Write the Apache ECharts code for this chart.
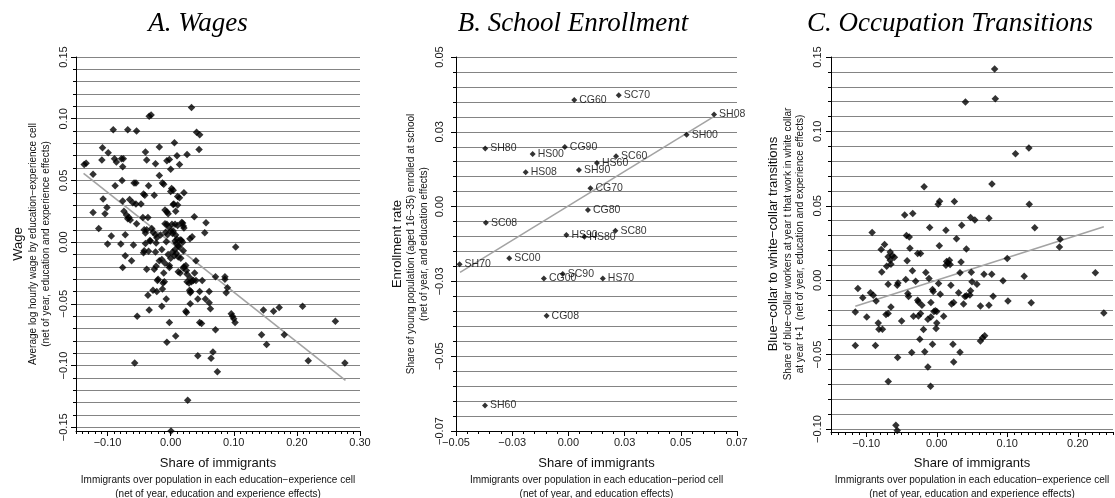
<!DOCTYPE html>
<html><head><meta charset="utf-8">
<script src="https://cdn.jsdelivr.net/npm/echarts@6/dist/echarts.min.js"></script>
<style>html,body{margin:0;padding:0;background:#fff}#c{width:1115px;height:498px}</style>
</head><body><div id="c"></div>
<script>
// ---------------- DATA ----------------
const panelTitles = ['A. Wages', 'B. School Enrollment', 'C. Occupation Transitions'];

// Panel A: wages vs share of immigrants (education-experience cells)
const wagesPoints = [
[-0.137,0.063],[-0.134,0.064],[-0.123,0.055],[-0.108,0.0765],[-0.109,0.0665],[-0.099,0.0725],[-0.091,0.091],[-0.089,0.0676],[-0.086,0.065],[-0.078,0.0676],[-0.075,0.0676],[-0.076,0.061],[-0.068,0.091],[-0.054,0.090],[-0.034,0.102],[-0.031,0.103],[0.033,0.109],[-0.040,0.073],[-0.038,0.0665],[-0.024,0.0635],[-0.018,0.077],[0.006,0.0805],[-0.006,0.066],[-0.002,0.067],[0.000,0.059],[0.010,0.070],[0.014,0.063],[0.026,0.071],[0.041,0.089],[0.046,0.087],[0.045,0.075],[-0.088,0.0457],[-0.077,0.050],[-0.058,0.048],[-0.055,0.048],[-0.035,0.0457],[-0.018,0.054],[-0.013,0.048],[-0.011,0.047],[0.0015,0.0435],[0.004,0.042],[0.021,0.040],
[-0.107,0.035],[-0.101,0.028],[-0.104,0.023],[-0.123,0.024],[-0.114,0.011],[-0.094,0.005],[-0.076,0.0333],[-0.065,0.0346],[-0.060,0.032],[-0.055,0.031],[-0.047,0.031],[-0.074,0.025],[-0.070,0.022],[-0.068,0.019],[-0.066,0.020],[-0.064,0.018],[-0.054,0.015],[-0.072,0.006],[-0.044,0.020],[-0.036,0.020],[-0.042,0.010],[-0.038,0.010],[-0.040,0.0075],[-0.030,0.011],[-0.028,0.008],[-0.024,0.006],[-0.033,0.0014],[-0.022,0.0035],[-0.016,0.0057],[-0.041,0.038],[-0.043,0.039],[-0.026,0.038],[-0.009,0.026],[-0.006,0.0246],[-0.004,0.023],[0.008,0.025],[0.005,0.031],[0.011,0.030],[0.004,0.0305],[0.000,0.041],[0.011,0.037],[0.014,0.036],[0.0375,0.0205],[0.056,0.0157],[0.054,0.0076],[-0.009,0.015],[-0.006,0.0145],[0.0005,0.009],[0.004,0.009],[0.002,0.0145],[0.007,0.0145],[0.0175,0.016],[0.019,0.0155],[0.020,0.013],[0.021,0.0115],[0.011,0.0135],[-0.003,0.012],[0.008,0.0057],[0.003,0.007],[0.0305,0.0027],[0.034,0.0043],[0.015,0.002],[0.019,0.000],[0.010,0.0024],[0.007,0.001],[-0.008,0.008],[-0.005,0.006],[0.103,-0.004],
[-0.100,-0.0016],[-0.079,-0.0016],[-0.059,-0.0024],[-0.040,-0.001],[-0.032,0.001],[-0.023,-0.0007],[-0.007,0.0003],[0.009,-0.001],[0.017,0.0015],[0.012,-0.003],[-0.072,-0.011],[-0.062,-0.015],[-0.076,-0.0205],[-0.043,-0.0085],[-0.035,-0.0073],[-0.024,-0.008],[-0.042,-0.007],[-0.014,-0.006],[-0.018,-0.015],[-0.014,-0.014],[-0.009,-0.017],[-0.002,-0.019],[-0.002,-0.0205],[-0.038,-0.022],[-0.026,-0.022],[-0.023,-0.0195],[-0.011,-0.025],[-0.004,-0.010],[0.003,-0.008],[0.006,-0.011],[0.009,-0.009],[0.012,-0.012],[0.016,-0.013],[0.007,-0.006],[0.014,-0.004],[0.020,-0.007],[0.000,-0.013],[0.012,-0.024],[0.015,-0.025],[0.024,-0.019],[0.020,-0.021],[0.025,-0.023],[0.026,-0.026],[0.021,-0.020],[0.040,-0.015],[0.038,-0.0249],
[-0.021,-0.031],[-0.020,-0.030],[-0.010,-0.032],[-0.012,-0.033],[0.026,-0.032],[0.029,-0.033],[0.033,-0.032],[0.031,-0.029],[0.036,-0.031],[0.040,-0.031],[0.050,-0.031],[-0.028,-0.039],[-0.022,-0.040],[-0.036,-0.043],[-0.013,-0.038],[-0.007,-0.046],[-0.014,-0.052],[-0.034,-0.055],[-0.053,-0.060],[0.030,-0.039],[0.031,-0.041],[0.032,-0.040],[0.046,-0.040],[0.061,-0.040],[0.055,-0.046],[0.061,-0.049],[0.043,-0.046],[0.063,-0.054],[0.031,-0.050],[0.024,-0.056],[0.025,-0.057],[0.071,-0.028],[0.086,-0.028],[0.086,-0.030],[0.090,-0.037],[0.088,-0.041],
[-0.002,-0.065],[0.008,-0.076],[-0.006,-0.081],[-0.057,-0.098],[0.046,-0.065],[0.049,-0.066],[0.071,-0.071],[0.027,-0.128],[0.0005,-0.153],[0.043,-0.092],[0.064,-0.094],[0.067,-0.089],[0.074,-0.105],[0.096,-0.058],[0.098,-0.060],[0.100,-0.062],[0.102,-0.065],[0.144,-0.075],[0.147,-0.055],[0.152,-0.083],[0.163,-0.056],[0.172,-0.053],[0.180,-0.075],[0.209,-0.052],[0.218,-0.096],[0.261,-0.064],[0.276,-0.098]
];
const wagesFit = [[-0.138, 0.0557], [0.277, -0.112]];

// Panel B: school enrollment (education-period cells)
const enrollNames = ['CG60','SC70','SH08','SH00','SH80','CG90','HS00','SC60','HS60','SH90','HS08','CG70','CG80','SC08','SC80','HS90','HS80','SH70','SC00','SC90','CG00','HS70','CG08','SH60'];
const enrollX = [0.0026,0.0224,0.0648,0.0526,-0.0370,-0.0016,-0.0159,0.0212,0.0127,0.0047,-0.0190,0.0098,0.0087,-0.0367,0.0209,-0.0009,0.0071,-0.0484,-0.0263,-0.0025,-0.0109,0.0153,-0.0097,-0.0371];
const enrollY = [0.0356,0.0372,0.0308,0.0240,0.0194,0.0199,0.0176,0.0168,0.0146,0.0122,0.0115,0.0061,-0.0011,-0.0054,-0.0081,-0.0095,-0.0101,-0.0193,-0.0173,-0.0225,-0.0240,-0.0240,-0.0365,-0.0665];
const enrollFit = [[-0.0482, -0.0220], [0.0645, 0.0300]];

// Panel C: blue-collar to white-collar transitions
const occPoints = [
[0.0821,0.1419],[0.0831,0.1219],[0.0407,0.1197],[0.1117,0.085],[0.1307,0.0888],[0.0783,0.0646],[-0.0179,0.0628],[0.1312,0.0511],[0.002,0.0511],[0.004,0.0531],[0.025,0.0529],[-0.0455,0.0439],[-0.034,0.0448],[0.048,0.0421],[0.054,0.0404],[0.074,0.0417],[-0.010,0.0354],[0.013,0.0336],[0.0354,0.037],[0.139,0.0352],[-0.0917,0.0321],[-0.043,0.030],[-0.039,0.029],[0.028,0.0278],[0.175,0.0276],[0.0036,0.0231],[-0.074,0.024],[0.174,0.0224],[0.042,0.021],[-0.038,0.0215],
[-0.0788,0.0206],[-0.066,0.019],[-0.063,0.0165],[-0.069,0.0158],[-0.060,0.0155],[-0.066,0.0135],[-0.071,0.0094],[-0.065,0.0108],[-0.078,0.0056],[-0.042,0.013],[-0.027,0.018],[-0.023,0.018],[-0.0345,0.0063],[-0.044,0.0004],[-0.030,-0.0007],[-0.0155,0.0052],[-0.011,0.0011],[0.0345,0.0123],[0.013,0.010],[0.016,0.0115],[0.019,0.0105],[0.014,0.0125],[0.018,0.0135],[0.033,0.005],[0.049,0.0054],[0.067,0.004],[0.078,0.004],[0.094,-0.0004],[0.100,0.0146],[0.124,0.0027],[0.225,0.005],[0.050,-0.0011],[0.057,-0.0027],[0.0026,-0.0022],[0.020,-0.0034],[-0.069,-0.0027],[-0.055,-0.0018],[-0.056,-0.0034],
[-0.1155,-0.0213],[-0.1119,-0.0056],[-0.105,-0.0117],[-0.0993,-0.0247],[-0.094,-0.0085],[-0.090,-0.0101],[-0.086,-0.0139],[-0.083,-0.0287],[-0.082,-0.033],[-0.077,-0.033],[-0.1155,-0.0439],[-0.087,-0.0439],[-0.072,-0.023],[-0.069,-0.0224],[-0.065,-0.018],[-0.0555,-0.052],[-0.0688,-0.068],[-0.0498,-0.0274],[-0.058,-0.0975],[-0.056,-0.101],[-0.041,-0.009],[-0.040,-0.011],[-0.033,-0.0242],[-0.027,-0.0135],[-0.026,-0.0146],[-0.026,-0.024],[-0.023,-0.0224],[-0.021,-0.0168],[-0.0355,-0.0486],[-0.024,-0.0397],[-0.0188,-0.0332],[-0.017,-0.048],[-0.0126,-0.0583],[-0.0088,-0.0713],[-0.0126,-0.0262],[-0.0083,-0.0247],[-0.0083,-0.015],[-0.006,-0.0063],[-0.005,-0.0075],[-0.004,-0.021],[-0.002,-0.0205],[0.000,-0.021],[-0.006,-0.043],[-0.001,-0.0325],[0.000,-0.0287],[0.005,-0.0094],[0.0098,-0.0242],[0.021,-0.016],[0.024,-0.015],[0.023,-0.043],[0.024,-0.055],[0.031,-0.0085],[0.033,-0.0484],[0.038,-0.016],[0.040,-0.011],[0.042,-0.0105],[0.047,-0.010],[0.048,-0.007],[0.062,-0.0173],[0.062,-0.0408],[0.065,-0.0386],[0.068,-0.0374],[0.074,-0.0168],[0.080,-0.0108],[0.101,-0.0139],[0.134,-0.0152],[0.237,-0.022]
];
const occFit = [[-0.1155, -0.0175], [0.237, 0.0359]];

// Tick values and labels
const aXTicks = [-0.10, 0.00, 0.10, 0.20, 0.30];
const aXLabels = ['\u22120.10', '0.00', '0.10', '0.20', '0.30'];
const aYTicks = [-0.15, -0.10, -0.05, 0.00, 0.05, 0.10, 0.15];
const aYLabels = ['\u22120.15', '\u22120.10', '\u22120.05', '0.00', '0.05', '0.10', '0.15'];
const bXTicks = [-0.05, -0.025, 0.00, 0.025, 0.05, 0.075];
const bXLabels = ['\u22120.05', '\u22120.03', '0.00', '0.03', '0.05', '0.07'];
const bYTicks = [-0.075, -0.05, -0.025, 0.00, 0.025, 0.05];
const bYLabels = ['\u22120.07', '\u22120.05', '\u22120.03', '0.00', '0.03', '0.05'];
const cXTicks = [-0.10, 0.00, 0.10, 0.20];
const cXLabels = ['\u22120.10', '0.00', '0.10', '0.20'];
const cYTicks = [-0.10, -0.05, 0.00, 0.05, 0.10, 0.15];
const cYLabels = ['\u22120.10', '\u22120.05', '0.00', '0.05', '0.10', '0.15'];

const yNames = [
  ['Wage', 'Average log hourly wage by education\u2212experience cell', '(net of year, education and experience effects)'],
  ['Enrollment rate', 'Share of young population (aged 16\u221235) enrolled at school', '(net of year, and education effects)'],
  ['Blue\u2212collar to white\u2212collar transitions', 'Share of blue\u2212collar workers at year t that work in white collar', 'at year t+1  (net of year, education and experience effects)']
];
const xNames = [
  ['Share of immigrants', 'Immigrants over population in each education\u2212experience cell', '(net of year, education and experience effects)'],
  ['Share of immigrants', 'Immigrants over population in each education\u2212period cell', '(net of year, and education effects)'],
  ['Share of immigrants', 'Immigrants over population in each education\u2212experience cell', '(net of year, education and experience effects)']
];

// ---------------- BUILD ----------------
function steps(a, b, s) {
  const n = Math.round((b - a) / s), out = [];
  for (let i = 0; i <= n; i++) out.push(+(a + i * s).toFixed(4));
  return out;
}
function fmt(ticks, labels) {
  return v => { for (let i = 0; i < ticks.length; i++) if (Math.abs(v - ticks[i]) < 1e-7) return labels[i]; return ''; };
}
const SANS = '"Liberation Sans", Arial, sans-serif';
const panels = [
  { grid: { left: 76, top: 57, width: 284, height: 374 }, xmin: -0.15, xmax: 0.30, ymin: -0.153, ymax: 0.15,
    xT: aXTicks, xL: aXLabels, yT: aYTicks, yL: aYLabels, xMinor: steps(-0.15, 0.30, 0.01), yMinor: steps(-0.15, 0.15, 0.01),
    cx: 218, yx: [18, 33, 46], ym: 7 },
  { grid: { left: 456, top: 57, width: 281, height: 374 }, xmin: -0.05, xmax: 0.075, ymin: -0.075, ymax: 0.05,
    xT: bXTicks, xL: bXLabels, yT: bYTicks, yL: bYLabels, xMinor: steps(-0.05, 0.075, 0.005), yMinor: steps(-0.075, 0.05, 0.005),
    cx: 596.5, yx: [397, 411, 424], ym: 11 },
  { grid: { left: 831, top: 57, width: 282, height: 375 }, xmin: -0.15, xmax: 0.25, ymin: -0.102, ymax: 0.15,
    xT: cXTicks, xL: cXLabels, yT: cYTicks, yL: cYLabels, xMinor: steps(-0.15, 0.25, 0.01), yMinor: steps(-0.10, 0.15, 0.01),
    cx: 972, yx: [773, 788, 800], ym: 8 }
];
const grids = [], xAxes = [], yAxes = [], series = [], graphic = [];
const titleX = [198, 573, 950];
panels.forEach((p, i) => {
  grids.push(Object.assign({ containLabel: false }, p.grid));
  xAxes.push({ type: 'value', gridIndex: i, min: p.xmin, max: p.xmax, position: 'bottom',
    axisLine: { show: true, onZero: false, lineStyle: { color: '#000', width: 1 } },
    axisTick: { show: true, customValues: p.xT, length: 5, lineStyle: { color: '#000' } },
    axisLabel: { show: true, customValues: p.xT, formatter: fmt(p.xT, p.xL), fontSize: 11, fontFamily: SANS, color: '#1a1a1a', margin: 6 },
    splitLine: { show: false } });
  xAxes.push({ type: 'value', gridIndex: i, min: p.xmin, max: p.xmax, position: 'bottom',
    axisLine: { show: false, onZero: false }, axisTick: { show: true, customValues: p.xMinor, length: 3, lineStyle: { color: '#000' } },
    axisLabel: { show: false }, splitLine: { show: false } });
  yAxes.push({ type: 'value', gridIndex: i, min: p.ymin, max: p.ymax, position: 'left',
    axisLine: { show: true, onZero: false, lineStyle: { color: '#000', width: 1 } },
    axisTick: { show: true, customValues: p.yMinor, length: 3, lineStyle: { color: '#000' } },
    axisLabel: { show: true, customValues: p.yT, formatter: fmt(p.yT, p.yL), rotate: 90, fontSize: 11, fontFamily: SANS, color: '#1a1a1a', margin: p.ym },
    splitLine: { show: true, lineStyle: { color: '#848484', width: 1 } } });
  yAxes.push({ type: 'value', gridIndex: i, min: p.ymin, max: p.ymax, position: 'left',
    axisLine: { show: false, onZero: false }, axisTick: { show: true, customValues: p.yT, length: 5, lineStyle: { color: '#000' } },
    axisLabel: { show: false }, splitLine: { show: false } });

  graphic.push({ type: 'text', x: titleX[i], y: 24, style: { text: panelTitles[i], font: 'italic 27px "Liberation Serif", serif', fill: '#000', align: 'center', verticalAlign: 'middle' } });
  const yc = 244;
  yNames[i].forEach((t, k) => {
    graphic.push({ type: 'text', x: p.yx[k], y: yc, rotation: Math.PI / 2,
      style: { text: t, font: (k === 0 ? '13px ' : '10px ') + SANS, fill: '#111', align: 'center', verticalAlign: 'middle' } });
  });
  const xy = [463, 480, 494];
  xNames[i].forEach((t, k) => {
    graphic.push({ type: 'text', x: p.cx, y: xy[k],
      style: { text: t, font: (k === 0 ? '13px ' : '10px ') + SANS, fill: '#111', align: 'center', verticalAlign: 'middle' } });
  });
});

const fitStyle = { color: '#a3a3a3', width: 1.6 };
series.push({ type: 'line', xAxisIndex: 0, yAxisIndex: 0, data: wagesFit, showSymbol: false, symbol: 'none', lineStyle: fitStyle, z: 2, silent: true });
series.push({ type: 'scatter', xAxisIndex: 0, yAxisIndex: 0, data: wagesPoints, symbol: 'diamond', symbolSize: 7.5, itemStyle: { color: '#000' }, z: 3 });
series.push({ type: 'line', xAxisIndex: 2, yAxisIndex: 2, data: enrollFit, showSymbol: false, symbol: 'none', lineStyle: fitStyle, z: 2, silent: true });
series.push({ type: 'scatter', xAxisIndex: 2, yAxisIndex: 2,
  data: enrollNames.map((n, k) => ({ name: n, value: [enrollX[k], enrollY[k]] })),
  symbol: 'diamond', symbolSize: 6, itemStyle: { color: '#000' }, z: 3,
  label: { show: true, position: 'right', distance: 2, formatter: '{b}', fontSize: 10.5, fontFamily: SANS, color: '#000' },
  labelLayout: { hideOverlap: false } });
series.push({ type: 'line', xAxisIndex: 4, yAxisIndex: 4, data: occFit, showSymbol: false, symbol: 'none', lineStyle: fitStyle, z: 2, silent: true });
series.push({ type: 'scatter', xAxisIndex: 4, yAxisIndex: 4, data: occPoints, symbol: 'diamond', symbolSize: 7.5, itemStyle: { color: '#000' }, z: 3 });

const chart = echarts.init(document.getElementById('c'), null, { renderer: 'canvas' });
chart.setOption({ animation: false, backgroundColor: '#fff', grid: grids, xAxis: xAxes, yAxis: yAxes, series: series, graphic: graphic });
</script></body></html>
